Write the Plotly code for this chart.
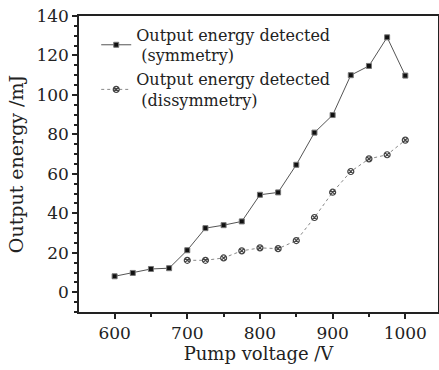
import plotly.graph_objects as go

voltage_sym = [600, 625, 650, 675, 700, 725, 750, 775, 800, 825, 850, 875, 900, 925, 950, 975, 1000]
energy_sym = [8.1, 9.8, 11.8, 12.2, 21.3, 32.5, 34, 35.9, 49.4, 50.6, 64.6, 80.9, 89.8, 110, 114.7, 129.2, 109.8]
voltage_dis = [700, 725, 750, 775, 800, 825, 850, 875, 900, 925, 950, 975, 1000]
energy_dis = [16.2, 16.2, 17.4, 21, 22.5, 22.1, 26.2, 37.9, 50.7, 61.2, 67.6, 69.7, 77.1]

name_sym = "Output energy detected<br>&nbsp;(symmetry)"
name_dis = "Output energy detected<br>&nbsp;(dissymmetry)"

font_family = "DejaVu Serif"

fig = go.Figure()
fig.add_trace(go.Scatter(
    x=voltage_sym, y=energy_sym, name=name_sym, mode="lines+markers",
    line=dict(color="#555555", width=1),
    marker=dict(symbol="square", size=5, color="#111111", line=dict(color="#777777", width=1)),
))
fig.add_trace(go.Scatter(
    x=voltage_dis, y=energy_dis, name=name_dis, mode="lines+markers",
    line=dict(color="#888888", width=1, dash="dot"),
    marker=dict(symbol="circle-x-open", size=6, color="#444444", line=dict(width=1.2)),
))

axis_common = dict(
    showline=True, linecolor="#222222", linewidth=1.5, mirror=True,
    ticks="outside", ticklen=5, tickwidth=1.5, tickcolor="#222222",
    showgrid=False, zeroline=False, automargin=False,
    tickfont=dict(family=font_family, size=17, color="#222222"),
)

fig.update_layout(
    width=439, height=370,
    margin=dict(l=79, r=1, t=16, b=58),
    paper_bgcolor="white", plot_bgcolor="white",
    showlegend=True,
    legend=dict(x=0.048, y=0.995, xanchor="left", yanchor="top",
                bgcolor="rgba(0,0,0,0)", font=dict(family=font_family, size=16, color="#222222"),
                itemwidth=30, tracegroupgap=0),
    xaxis=dict(range=[551, 1045], tickvals=[600, 700, 800, 900, 1000],
               minor=dict(dtick=50, tick0=550, ticks="outside", ticklen=3, tickcolor="#222222"),
               title=dict(text="Pump voltage /V", font=dict(family=font_family, size=18, color="#222222"), standoff=4),
               **axis_common),
    yaxis=dict(range=[-10, 140], tickvals=[0, 20, 40, 60, 80, 100, 120, 140],
               minor=dict(dtick=5, tick0=0, ticks="outside", ticklen=3, tickcolor="#222222"),
               title=dict(text="Output energy /mJ", font=dict(family=font_family, size=19, color="#222222"), standoff=8),
               **axis_common),
)

fig.write_html("out.html", config={"displayModeBar": False},
               post_script="document.body.style.margin='0';document.body.style.overflow='hidden';")
